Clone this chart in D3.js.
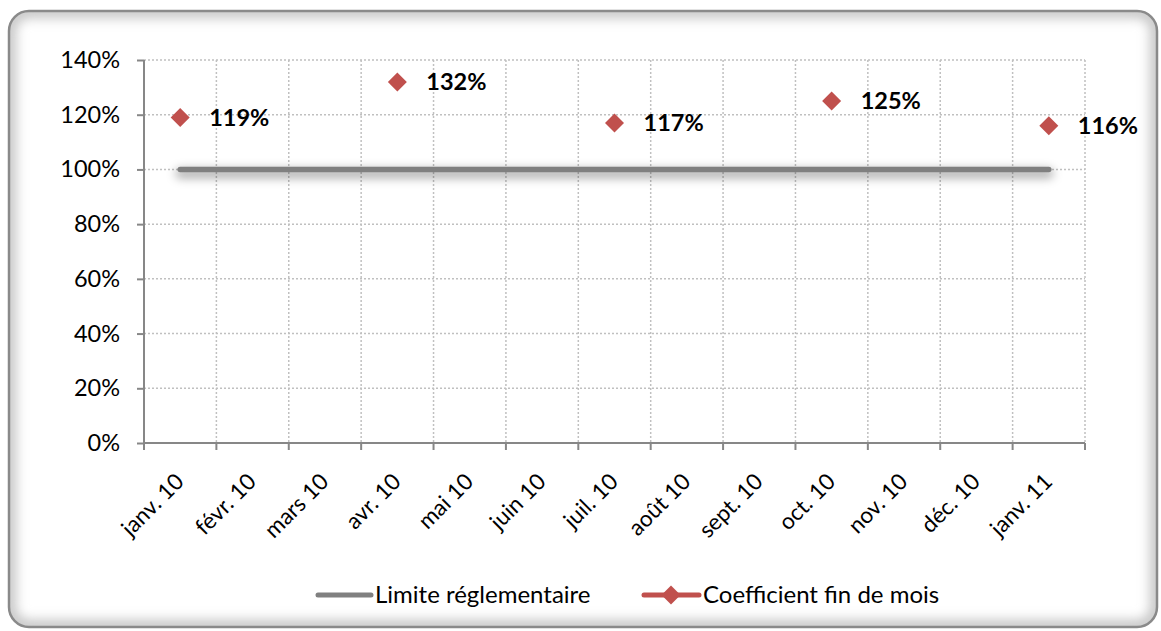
<!DOCTYPE html>
<html>
<head>
<meta charset="utf-8">
<script src="https://cdn.jsdelivr.net/npm/d3@7/dist/d3.min.js"></script>
<style>
  html, body { margin: 0; padding: 0; background: #ffffff; }
  svg { display: block; font-family: Lato, "Open Sans", sans-serif; }
</style>
</head>
<body>
<svg id="chart" width="1161" height="631"></svg>
<script>
// Monthly categories on the x axis
const months = ["janv. 10", "févr. 10", "mars 10", "avr. 10", "mai 10", "juin 10",
                "juil. 10", "août 10", "sept. 10", "oct. 10", "nov. 10", "déc. 10", "janv. 11"];
// Regulatory limit (%) for every month
const limite = [100, 100, 100, 100, 100, 100, 100, 100, 100, 100, 100, 100, 100];
// End-of-month coefficient (%), reported quarterly
const coefficient = [119, null, null, 132, null, null, 117, null, null, 125, null, null, 116];
// Y axis ticks (%)
const yTicks = [0, 20, 40, 60, 80, 100, 120, 140];
const seriesNames = ["Limite réglementaire", "Coefficient fin de mois"];

const svg = d3.select("#chart");
const plot = { left: 144, right: 1085, top: 60, bottom: 443 };

const defs = svg.append("defs");
// soft shadow under the limit line (user-space region: the line has a flat bounding box)
const sh = defs.append("filter").attr("id", "lineShadow")
  .attr("filterUnits", "userSpaceOnUse")
  .attr("x", 0).attr("y", 0).attr("width", 1161).attr("height", 631);
sh.append("feGaussianBlur").attr("stdDeviation", 5);
// inner glow for the frame
const glow = defs.append("filter").attr("id", "frameGlow")
  .attr("filterUnits", "userSpaceOnUse")
  .attr("x", 0).attr("y", 0).attr("width", 1161).attr("height", 631);
glow.append("feGaussianBlur").attr("stdDeviation", 6);
defs.append("clipPath").attr("id", "frameClip")
  .append("rect").attr("x", 9).attr("y", 11).attr("width", 1148).attr("height", 616).attr("rx", 20);

// frame with a soft inner edge
const frame = svg.append("g");
frame.append("rect").attr("x", 9).attr("y", 11).attr("width", 1148).attr("height", 616).attr("rx", 20)
  .attr("fill", "#ffffff");
frame.append("g").attr("clip-path", "url(#frameClip)")
  .append("rect").attr("x", 9).attr("y", 11).attr("width", 1148).attr("height", 616).attr("rx", 20)
  .attr("fill", "none").attr("stroke", "#c4c4c4").attr("stroke-width", 14)
  .attr("filter", "url(#frameGlow)");
frame.append("rect").attr("x", 9).attr("y", 11).attr("width", 1148).attr("height", 616).attr("rx", 20)
  .attr("fill", "none").attr("stroke", "#8a8a8a").attr("stroke-width", 2.5);

// scales
const x = d3.scaleBand().domain(months).range([plot.left, plot.right]).padding(0);
const y = d3.scaleLinear().domain([0, 140]).range([plot.bottom, plot.top]);
const cx = d => x(d) + x.bandwidth() / 2;

// gridlines
const grid = svg.append("g").attr("stroke", "#c0c0c0").attr("stroke-width", 1.5)
  .attr("stroke-dasharray", "2,2");
grid.selectAll("line.h").data(yTicks.filter(t => t > 0)).join("line")
  .attr("x1", plot.left).attr("x2", plot.right)
  .attr("y1", d => y(d)).attr("y2", d => y(d));
const bounds = months.map(m => x(m) + x.bandwidth());
grid.selectAll("line.v").data(bounds).join("line")
  .attr("x1", d => d).attr("x2", d => d)
  .attr("y1", plot.top).attr("y2", plot.bottom);

// y axis
const yAxis = svg.append("g").attr("transform", `translate(${plot.left},0)`)
  .call(d3.axisLeft(y).tickValues(yTicks).tickFormat(d => d + "%").tickSize(7).tickPadding(17));
yAxis.select(".domain").attr("stroke", "#878787").attr("stroke-width", 2)
  .attr("d", `M0,${plot.top}V${plot.bottom}`);
yAxis.selectAll(".tick line").attr("stroke", "#878787").attr("stroke-width", 2);
yAxis.selectAll(".tick text").attr("font-size", 23.5).attr("fill", "#000")
  .attr("font-family", "Lato, sans-serif");

// x axis with ticks on band boundaries
const xAxisG = svg.append("g").attr("transform", `translate(0,${plot.bottom})`);
xAxisG.append("line").attr("x1", plot.left).attr("x2", plot.right)
  .attr("stroke", "#878787").attr("stroke-width", 2);
xAxisG.selectAll("line.t").data([plot.left].concat(bounds)).join("line")
  .attr("x1", d => d).attr("x2", d => d).attr("y1", 0).attr("y2", 7)
  .attr("stroke", "#878787").attr("stroke-width", 2);
xAxisG.selectAll("text").data(months).join("text")
  .attr("transform", d => `translate(${cx(d) + 5},${40}) rotate(-45)`)
  .attr("text-anchor", "end").attr("font-size", 22.5).attr("fill", "#000")
  .text(d => d);

// limit line with shadow
const limitData = months.map((m, i) => ({ m, v: limite[i] }));
const lineGen = d3.line().x(d => cx(d.m)).y(d => y(d.v));
svg.append("path").datum(limitData).attr("d", lineGen)
  .attr("transform", "translate(0,4)")
  .attr("fill", "none").attr("stroke", "#000").attr("stroke-opacity", 0.3)
  .attr("stroke-width", 10).attr("stroke-linecap", "round").attr("filter", "url(#lineShadow)");
svg.append("path").datum(limitData).attr("d", lineGen)
  .attr("fill", "none").attr("stroke", "#808080").attr("stroke-width", 5.5)
  .attr("stroke-linecap", "round");

// coefficient markers and labels
const coefData = months.map((m, i) => ({ m, v: coefficient[i] })).filter(d => d.v != null);
const diamond = d3.symbol().type(d3.symbolDiamond2).size(230);
svg.selectAll("path.pt").data(coefData).join("path")
  .attr("transform", d => `translate(${cx(d.m)},${y(d.v)})`)
  .attr("d", diamond).attr("fill", "#C0504D");
svg.selectAll("text.lbl").data(coefData).join("text")
  .attr("x", d => cx(d.m) + 29).attr("y", d => y(d.v)).attr("dy", "0.36em")
  .attr("font-size", 23.5).attr("font-weight", "bold").attr("fill", "#000")
  .text(d => d.v + "%");

// legend
const lg = svg.append("g").attr("transform", "translate(0,595)");
lg.append("line").attr("x1", 318).attr("x2", 371).attr("stroke", "#808080")
  .attr("stroke-width", 5).attr("stroke-linecap", "round");
lg.append("text").attr("x", 375).attr("dy", "0.35em").attr("font-size", 24).text(seriesNames[0]);
lg.append("line").attr("x1", 644).attr("x2", 699).attr("stroke", "#C0504D")
  .attr("stroke-width", 5).attr("stroke-linecap", "round");
lg.append("path").attr("transform", "translate(671,0)").attr("d", diamond).attr("fill", "#C0504D");
lg.append("text").attr("x", 703).attr("dy", "0.35em").attr("font-size", 24).text(seriesNames[1]);
</script>
</body>
</html>
